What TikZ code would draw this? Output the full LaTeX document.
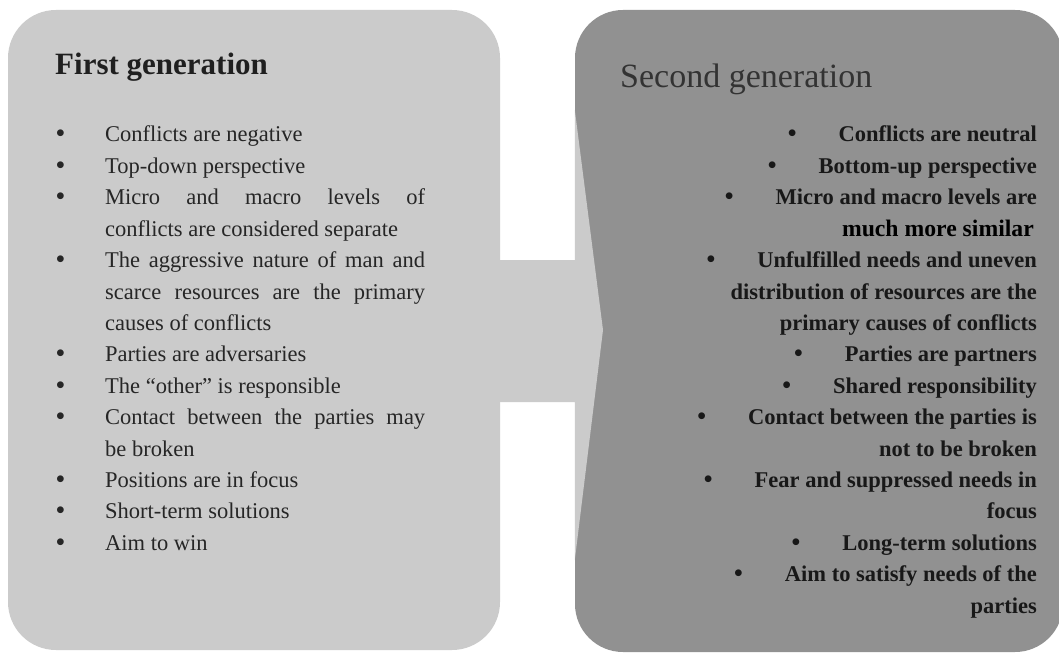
\documentclass[tikz,border=0pt]{standalone}
\usepackage{fontspec}
\setmainfont{Liberation Serif}
\definecolor{lightbox}{HTML}{CBCBCB}
\definecolor{darkbox}{HTML}{919191}
\definecolor{leftink}{HTML}{262626}
\definecolor{rightink}{HTML}{181818}
\newcommand\bigbul{{\bfseries\fontsize{25}{31.4}\selectfont\textbullet}}
\newcommand\lbul{\makebox[49pt][l]{\bigbul}}
\newcommand\jline[1]{\hbox to 320pt{#1}}
\newcommand\lline[1]{\hbox{#1}}
\newcommand\rline[1]{\hbox to 360pt{\hfil #1}}
\newcommand\rbul{\bigbul\hspace{42pt}}
\begin{document}
\begin{tikzpicture}[x=1pt,y=-1pt,
  panel/.style={rounded corners=48pt, inner sep=0pt, draw=none},
  lefttext/.style={anchor=base west, inner sep=0pt, text=leftink, font=\fontsize{22.5}{31.4}\selectfont},
  righttext/.style={anchor=base east, inner sep=0pt, text=rightink, font=\bfseries\fontsize{22.5}{31.4}\selectfont},
  titletext/.style={anchor=base west, inner sep=0pt},
  connector/.style={fill=lightbox, draw=none}
]
\useasboundingbox (0,0) rectangle (1059,655);
\fill[white] (0,0) rectangle (1059,655);

% panels
\node[panel, fill=darkbox, minimum width=488pt, minimum height=642pt] (second) at (819,331) {};
\node[panel, fill=lightbox, minimum width=492pt, minimum height=640pt] (first) at (254,330) {};

% connector arrow
\coordinate (bandtop) at (0,260);
\coordinate (bandbot) at (0,402);
\coordinate (headtop) at (0,110);
\coordinate (headbot) at (0,560);
\coordinate (tip) at (603,330);
\fill[connector] ([xshift=-6pt]first.east |- bandtop) -- (second.west |- bandtop)
  -- (second.west |- headtop) -- (tip) -- (second.west |- headbot)
  -- (second.west |- bandbot) -- ([xshift=-6pt]first.east |- bandbot) -- cycle;

% titles
\node[titletext, font=\bfseries\fontsize{31}{36}\selectfont, text=black!88] (t1) at (55,75) {First generation};
\node[titletext, font=\fontsize{34}{40}\selectfont, text=black!80] (t2) at (620,88) {Second generation};

% first generation list
\node[lefttext] (l1) at (56,142) {\lbul Conflicts are negative};
\node[lefttext] (l2) at (56,173.4) {\lbul Top-down perspective};
\node[lefttext] (l3) at (56,204.8) {\lbul\vtop{\jline{Micro and macro levels of}\lline{conflicts are considered separate}}};
\node[lefttext] (l4) at (56,267.6) {\lbul\vtop{\jline{The aggressive nature of man and}\jline{scarce resources are the primary}\lline{causes of conflicts}}};
\node[lefttext] (l5) at (56,361.8) {\lbul Parties are adversaries};
\node[lefttext] (l6) at (56,393.2) {\lbul The “other” is responsible};
\node[lefttext] (l7) at (56,424.6) {\lbul\vtop{\jline{Contact between the parties may}\lline{be broken}}};
\node[lefttext] (l8) at (56,487.4) {\lbul Positions are in focus};
\node[lefttext] (l9) at (56,518.8) {\lbul Short-term solutions};
\node[lefttext] (l10) at (56,550.2) {\lbul Aim to win};

% second generation list
\node[righttext] (r1) at (1037,142) {\rbul Conflicts are neutral};
\node[righttext] (r2) at (1037,173.4) {\rbul Bottom-up perspective};
\node[righttext] (r3) at (1037,204.8) {\vtop{\rline{\rbul Micro and macro levels are}\rline{{\color{black}\fontsize{23.7}{31.4}\selectfont much more similar}\hspace{3pt}}}};
\node[righttext] (r4) at (1037,267.6) {\vtop{\rline{\rbul Unfulfilled needs and uneven}\rline{distribution of resources are the}\rline{primary causes of conflicts}}};
\node[righttext] (r5) at (1037,361.8) {\rbul Parties are partners};
\node[righttext] (r6) at (1037,393.2) {\rbul Shared responsibility};
\node[righttext] (r7) at (1037,424.6) {\vtop{\rline{\rbul Contact between the parties is}\rline{not to be broken}}};
\node[righttext] (r8) at (1037,487.4) {\vtop{\rline{\rbul Fear and suppressed needs in}\rline{focus}}};
\node[righttext] (r9) at (1037,550.2) {\rbul Long-term solutions};
\node[righttext] (r10) at (1037,581.6) {\vtop{\rline{\rbul Aim to satisfy needs of the}\rline{parties}}};
\end{tikzpicture}
\end{document}
